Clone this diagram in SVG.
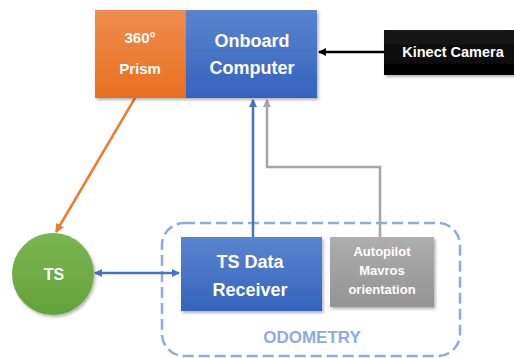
<svg xmlns="http://www.w3.org/2000/svg" width="514" height="358" viewBox="0 0 514 358">
<defs>
<linearGradient id="gOrange" x1="0" y1="0" x2="0" y2="1"><stop offset="0" stop-color="#F08C4F"/><stop offset="1" stop-color="#E8701F"/></linearGradient>
<linearGradient id="gBlue" x1="0" y1="0" x2="0" y2="1"><stop offset="0" stop-color="#5B84D0"/><stop offset="1" stop-color="#3463BC"/></linearGradient>
<linearGradient id="gGray" x1="0" y1="0" x2="0" y2="1"><stop offset="0" stop-color="#AEAEAE"/><stop offset="1" stop-color="#939393"/></linearGradient>
<linearGradient id="gGreen" x1="0" y1="0" x2="0" y2="1"><stop offset="0" stop-color="#7AB652"/><stop offset="1" stop-color="#64A23A"/></linearGradient>
<linearGradient id="gBlack" x1="0" y1="0" x2="0" y2="1"><stop offset="0" stop-color="#1a1a1a"/><stop offset="1" stop-color="#000"/></linearGradient>
<filter id="sh" x="-10%" y="-10%" width="130%" height="130%"><feDropShadow dx="1.5" dy="2" stdDeviation="1.5" flood-color="#000" flood-opacity="0.3"/></filter>
<marker id="mBlue" markerWidth="8" markerHeight="8" refX="7" refY="4" orient="auto-start-reverse" markerUnits="userSpaceOnUse"><path d="M0,0 L8,4 L0,8 Z" fill="#4472C4"/></marker>
<marker id="mGray" markerWidth="8" markerHeight="8" refX="7" refY="4" orient="auto" markerUnits="userSpaceOnUse"><path d="M0,0 L8,4 L0,8 Z" fill="#A5A5A5"/></marker>
<marker id="mBlack" markerWidth="8" markerHeight="8" refX="7" refY="4" orient="auto" markerUnits="userSpaceOnUse"><path d="M0,0 L8,4 L0,8 Z" fill="#000"/></marker>
<marker id="mOrange" markerWidth="9" markerHeight="9" refX="8" refY="4.5" orient="auto" markerUnits="userSpaceOnUse"><path d="M0,0 L9,4.5 L0,9 Z" fill="#ED7D31"/></marker>
</defs>
<style>
text{font-family:"Liberation Sans",Arial,sans-serif;font-weight:bold;fill:#fff;text-anchor:middle;dominant-baseline:central}
.conn{fill:none;stroke-width:2.5}
</style>
<g id="odometry">
<rect x="162" y="223" width="298" height="133" rx="22" ry="22" fill="none" stroke="#8FAADC" stroke-width="2.5" stroke-dasharray="11,5"/>
<text x="312" y="337" font-size="17" style="fill:#8FAADC">ODOMETRY</text>
</g>
<g id="connectors">
<line class="conn" x1="384" y1="52" x2="319" y2="52" stroke="#000" marker-end="url(#mBlack)"/>
<line class="conn" x1="135" y1="98" x2="56" y2="232" stroke="#ED7D31" marker-end="url(#mOrange)"/>
<line class="conn" x1="253" y1="237" x2="253" y2="100" stroke="#4472C4" marker-end="url(#mBlue)"/>
<polyline class="conn" points="380,237 380,167 267,167 267,100" stroke="#A5A5A5" marker-end="url(#mGray)"/>
<line class="conn" x1="95" y1="273" x2="179" y2="273" stroke="#4472C4" marker-start="url(#mBlue)" marker-end="url(#mBlue)"/>
</g>
<g id="prism">
<rect x="95" y="10" width="91" height="88" fill="url(#gOrange)" filter="url(#sh)"/>
<text x="140" y="37" font-size="15">360°</text>
<text x="140" y="68" font-size="15">Prism</text>
</g>
<g id="computer">
<rect x="186" y="10" width="131" height="88" fill="url(#gBlue)" filter="url(#sh)"/>
<text x="252" y="41" font-size="18">Onboard</text>
<text x="252" y="68" font-size="18">Computer</text>
</g>
<g id="kinect">
<rect x="384" y="30" width="135" height="45" fill="url(#gBlack)" filter="url(#sh)"/>
<text x="453" y="52" font-size="14.5">Kinect Camera</text>
</g>
<g id="ts">
<circle cx="53" cy="274" r="41" fill="url(#gGreen)" filter="url(#sh)"/>
<text x="54" y="274" font-size="16">TS</text>
</g>
<g id="receiver">
<rect x="181" y="237" width="141" height="74" fill="url(#gBlue)" filter="url(#sh)"/>
<text x="250" y="262" font-size="18">TS Data</text>
<text x="250" y="290" font-size="18">Receiver</text>
</g>
<g id="autopilot">
<rect x="330" y="237" width="104" height="70" fill="url(#gGray)" filter="url(#sh)"/>
<text x="382" y="251" font-size="13">Autopilot</text>
<text x="382" y="270" font-size="13">Mavros</text>
<text x="382" y="289" font-size="13">orientation</text>
</g>
</svg>
